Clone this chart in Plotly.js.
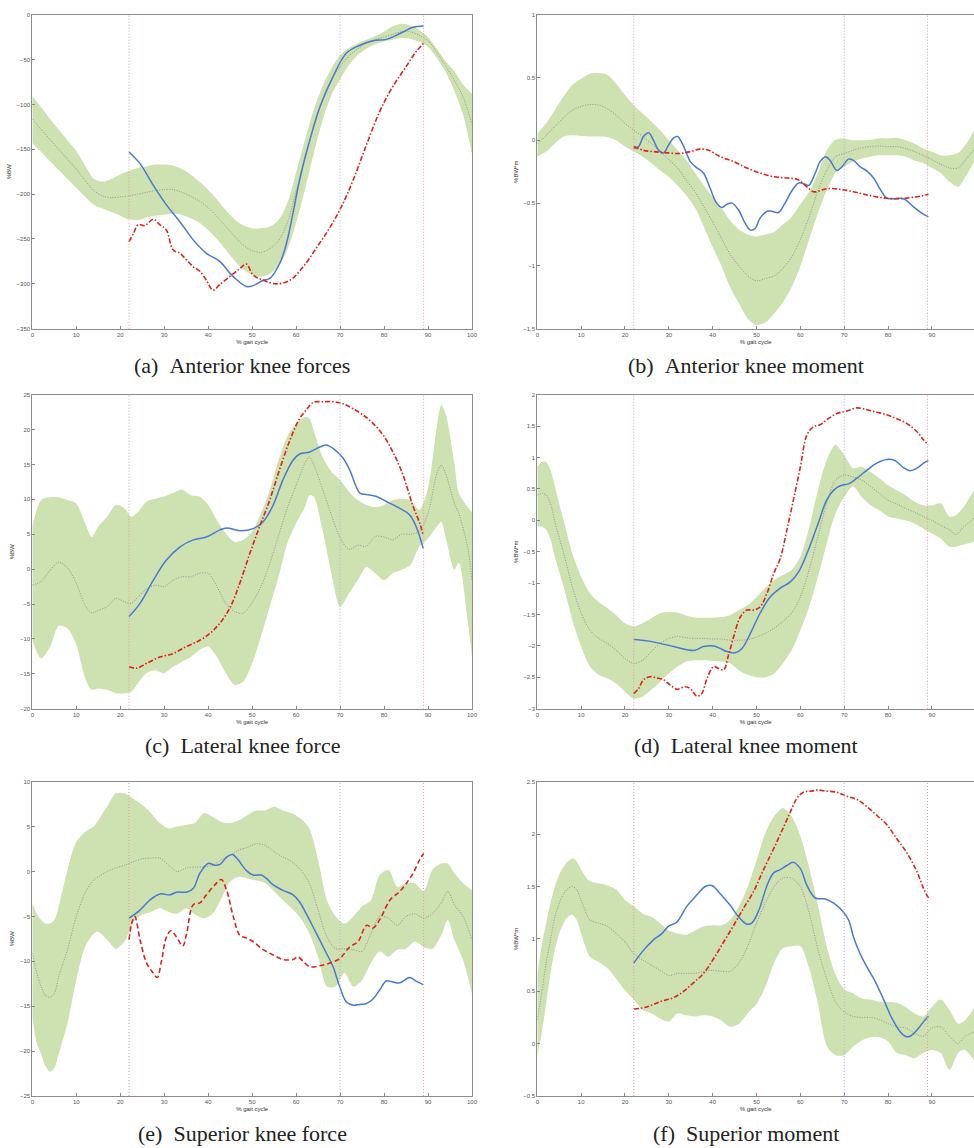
<!DOCTYPE html>
<html>
<head>
<meta charset="utf-8">
<script src="https://cdn.plot.ly/plotly-3.0.1.min.js"></script>
<style>html,body{margin:0;padding:0;background:#fff;}#chart{width:974px;height:1148px;}</style>
</head>
<body>
<div id="chart"></div>
<script>
// ---------- shared ----------
const eventX = [22, 70, 89];
const xTicks = [0,10,20,30,40,50,60,70,80,90,100];

// ---------- (a) Anterior knee forces ----------
const aX = [0,2,4,6,8,10,12,14,16,18,20,22,24,26,28,30,32,34,36,38,40,42,44,46,48,50,52,54,56,58,60,62,64,66,68,70,72,74,76,78,80,82,84,86,88,90,92,94,96,98,100];
const aUpper = [-91,-103,-116,-128,-140,-152,-168,-183,-186,-183,-178,-174,-171,-169,-167,-167,-168,-172,-178,-186,-195,-206,-218,-228,-235,-238,-238,-236,-229,-210,-176,-140,-106,-80,-60,-45,-37,-32,-28,-24,-19,-13,-10,-12,-17,-25,-38,-52,-63,-78,-88];
const aLower = [-143,-153,-163,-173,-183,-193,-203,-212,-216,-220,-224,-228,-229,-226,-224,-223,-222,-223,-227,-232,-240,-250,-262,-274,-284,-290,-292,-289,-280,-262,-232,-195,-155,-118,-90,-72,-56,-45,-38,-33,-30,-28,-26,-27,-30,-36,-48,-64,-85,-112,-155];
const aMean = [-116,-128,-139,-150,-161,-172,-185,-196,-202,-204,-203,-202,-200,-198,-196,-195,-195,-198,-202,-208,-215,-225,-236,-247,-257,-263,-265,-261,-252,-232,-197,-160,-126,-95,-73,-58,-46,-38,-32,-28,-25,-22,-19,-19,-23,-29,-42,-57,-73,-92,-122];
const aBlueX = [22,24.5,27.5,30.5,33.6,36.6,39.6,42.6,45.7,48.7,50.2,52.5,54,56.3,57.8,59.3,60.8,63.1,65.4,68.4,71.4,74.5,77.5,80.5,83.6,86.6,89];
const aBlue = [-153,-166,-190,-212,-231,-251,-266,-275,-292,-303,-302,-296,-294,-277,-255,-221,-184,-140,-103,-69,-43,-34,-29,-27.5,-21,-14,-12.6];
const aRedX = [22,23,24.1,25.6,27.5,29,30.5,32,33.6,35,36.6,38.1,39.6,41.1,42.6,44.9,47.2,48.7,50.2,52.5,55.5,58.6,61.6,64.6,67.7,70.5,73,76,79,82,85,87.3,89];
const aRed = [-253,-244,-234,-235,-228,-234,-240,-262,-266,-273,-281,-286,-296,-307,-301,-292,-283,-278,-290,-296,-300,-296,-281,-260,-237,-212,-184,-145,-108,-80,-58,-41,-32];

// ---------- (b) Anterior knee moment ----------
const bX = [0,2,4,6,8,10,12,14,16,18,20,22,24,26,28,30,32,34,36,38,40,42,44,46,48,50,52,54,56,58,60,62,64,66,68,70,72,74,76,78,80,82,84,86,88,90,92,94,96,98,99.6];
const bUpper = [0.055,0.135,0.24,0.35,0.44,0.49,0.53,0.535,0.52,0.45,0.36,0.28,0.215,0.15,0.08,0.0,-0.08,-0.16,-0.26,-0.36,-0.45,-0.54,-0.64,-0.71,-0.75,-0.765,-0.75,-0.73,-0.67,-0.61,-0.51,-0.41,-0.26,-0.08,0.005,0.015,0.0,0.0,0.005,0.015,0.015,0.02,0.0,-0.025,-0.065,-0.09,-0.12,-0.12,-0.1,-0.02,0.08];
const bLower = [-0.13,-0.09,-0.025,0.03,0.04,0.035,0.03,0.03,0.025,0.0,-0.05,-0.09,-0.13,-0.18,-0.24,-0.29,-0.36,-0.44,-0.54,-0.69,-0.85,-1.0,-1.17,-1.3,-1.42,-1.47,-1.45,-1.38,-1.29,-1.17,-1.0,-0.79,-0.58,-0.4,-0.26,-0.21,-0.17,-0.145,-0.13,-0.12,-0.12,-0.12,-0.13,-0.16,-0.18,-0.22,-0.26,-0.33,-0.37,-0.27,-0.17];
const bMean = [-0.03,0.04,0.11,0.18,0.24,0.27,0.285,0.28,0.25,0.2,0.135,0.08,0.03,-0.025,-0.09,-0.155,-0.22,-0.32,-0.41,-0.53,-0.65,-0.78,-0.91,-1.0,-1.08,-1.12,-1.1,-1.08,-1.02,-0.93,-0.79,-0.61,-0.4,-0.24,-0.13,-0.105,-0.08,-0.06,-0.05,-0.045,-0.05,-0.05,-0.065,-0.09,-0.12,-0.155,-0.19,-0.22,-0.22,-0.14,-0.07];
const bBlueX = [22,23.1,24.2,25.4,26.5,27.7,28.8,29.9,31.1,32,33.4,34.9,36.4,37.9,39.4,40.9,42.1,43.2,44.4,45.9,47.4,48.6,49.7,50.8,52.4,53.5,55,56.5,58.1,59.6,61.1,61.9,63.4,64.5,65.7,66.8,68.3,69.5,71,72.1,73.6,75.2,76.7,78.2,79.7,81.2,83.5,85.8,87.7,89.2];
const bBlue = [-0.065,-0.05,0.03,0.06,0.0,-0.08,-0.1,-0.04,0.02,0.03,-0.05,-0.17,-0.22,-0.26,-0.38,-0.5,-0.535,-0.51,-0.5,-0.555,-0.66,-0.715,-0.7,-0.62,-0.565,-0.565,-0.575,-0.5,-0.4,-0.34,-0.35,-0.36,-0.26,-0.17,-0.13,-0.16,-0.24,-0.21,-0.15,-0.16,-0.21,-0.245,-0.3,-0.39,-0.46,-0.465,-0.465,-0.53,-0.58,-0.61];
const bRedX = [22,24.2,26.5,29.6,32.6,34.9,37.2,39.1,41.7,44.8,47.8,50.8,53.9,56.9,59.2,61.5,63,66,69,72.1,75.2,78.2,81.2,84.3,87.3,89.2];
const bRed = [-0.05,-0.08,-0.09,-0.1,-0.105,-0.09,-0.07,-0.08,-0.13,-0.17,-0.22,-0.26,-0.29,-0.3,-0.31,-0.37,-0.41,-0.385,-0.39,-0.41,-0.435,-0.455,-0.465,-0.46,-0.445,-0.43];

// ---------- (c) Lateral knee force ----------
const cX = [0,2,4,6,8,10,12,13.5,15,17,19,21,22.5,24,26,28,30,32,34,36,38,40,42,44,46,48,50,52,54,56,58,60,62,63,64,66,68,70,72,74,76,78,80,82,84,86,88,90,92,93,94,96,97,99,100];
const cUpper = [6.1,9.9,10.3,10.3,9.9,9.4,6.6,4.6,6.1,7.5,9.2,8.7,7.5,8.2,9.7,10.1,10.4,10.9,11.4,10.6,10.4,9.2,7.0,5.1,3.9,4.2,5.4,8.0,11.3,15.6,19.0,20.9,21.8,21.6,19.9,16.1,14.0,12.8,11.1,9.9,9.2,8.9,9.2,9.9,10.1,9.9,8.5,11.6,20.4,23.5,22.3,15.2,10.9,8.9,8.2];
const cLower = [-10.2,-12.8,-11.2,-8.1,-8.5,-10.8,-15.6,-17.3,-17.1,-17.3,-17.8,-17.8,-17.6,-16.4,-14.9,-14.5,-14.9,-14.0,-13.3,-12.6,-11.6,-11.1,-12.6,-14.9,-16.6,-16.1,-13.5,-9.7,-5.4,-1.1,3.7,6.6,8.9,10.6,10.4,5.6,-0.6,-5.4,-3.5,-1.6,0.3,-0.6,-1.6,-0.6,-0.1,0.6,3.2,4.4,6.1,6.8,4.6,-0.1,0.9,-7.3,-12.6];
const cMean = [-2.3,-1.8,-0.2,1.0,0.2,-2.0,-5.2,-6.3,-5.9,-5.4,-4.2,-4.7,-4.9,-4.0,-2.8,-2.3,-2.5,-1.6,-1.1,-1.1,-0.6,-0.6,-2.5,-4.9,-6.1,-6.3,-4.8,-2.5,0.8,4.8,8.8,12.0,15.2,16.1,15.0,11.5,7.8,4.5,2.8,3.4,3.3,4.7,4.6,4.2,5.0,5.0,5.4,8.0,13.7,14.9,13.7,9.4,8.0,3.2,-1.6];
const cBlueX = [22,24.5,27.5,30.5,33.6,36.6,39.6,42.6,44.2,47.2,50.2,52.5,54.8,57,59.3,60.8,63.1,65.4,66.9,68.4,70.7,72.2,74.5,76,78.3,80.5,83.6,85.8,87.3,88.9];
const cBlue = [-6.8,-4.9,-1.6,1.3,3.2,4.2,4.6,5.6,5.9,5.5,5.8,6.8,9.2,12.8,15.6,16.5,16.8,17.5,17.8,17.3,15.9,14.2,10.9,10.7,10.4,9.7,8.7,7.8,6.1,3.0];
const cRedX = [22,23.7,26,29,32,35,38.1,40.4,42.6,44.9,47.2,49.5,51.7,54,56.3,58.6,60.8,62.3,63.9,66.1,68.4,70.7,72.9,75.2,77.5,79.8,82,84.3,86.6,88.1,88.9];
const cRed = [-14.0,-14.2,-13.5,-12.6,-12.1,-11.1,-10.2,-9.2,-7.8,-5.6,-2.0,2.3,6.1,9.9,14.4,18.5,21.6,22.8,23.9,24.0,24.0,23.7,23.0,22.1,20.9,19.2,16.8,13.5,9.0,6.6,4.9];

// ---------- (d) Lateral knee moment ----------
const dX = [0,1,2,3,4,6,8,10,12,14,16,18,20,22,24,26,28,30,32,34,36,38,40,42,44,46,48,50,52,54,56,58,60,62,64,66,68,70,72,74,76,78,80,82,84,86,88,90,92,94,95.5,97,99.6];
const dUpper = [0.85,0.93,0.93,0.8,0.54,0.0,-0.53,-0.9,-1.16,-1.3,-1.4,-1.51,-1.64,-1.69,-1.64,-1.56,-1.48,-1.46,-1.47,-1.52,-1.55,-1.55,-1.55,-1.54,-1.51,-1.43,-1.35,-1.22,-1.08,-0.95,-0.87,-0.79,-0.58,-0.12,0.48,0.96,1.2,1.04,0.83,0.85,0.77,0.67,0.56,0.48,0.4,0.3,0.24,0.24,0.27,0.06,0.08,0.19,0.48];
const dLower = [-0.1,-0.1,-0.15,-0.3,-0.58,-1.06,-1.59,-2.01,-2.33,-2.46,-2.52,-2.6,-2.73,-2.84,-2.81,-2.7,-2.57,-2.44,-2.33,-2.25,-2.23,-2.23,-2.24,-2.25,-2.28,-2.39,-2.46,-2.5,-2.5,-2.44,-2.28,-2.07,-1.75,-1.38,-0.9,-0.37,0.11,0.37,0.54,0.37,0.24,0.16,0.06,0.03,0.0,-0.05,-0.13,-0.21,-0.29,-0.42,-0.42,-0.39,-0.34];
const dMean = [0.4,0.43,0.4,0.27,-0.02,-0.52,-1.06,-1.48,-1.75,-1.88,-1.96,-2.07,-2.2,-2.28,-2.23,-2.09,-1.96,-1.88,-1.85,-1.87,-1.88,-1.88,-1.89,-1.89,-1.91,-1.91,-1.9,-1.86,-1.8,-1.72,-1.61,-1.48,-1.22,-0.79,-0.26,0.27,0.64,0.72,0.69,0.64,0.54,0.43,0.32,0.26,0.19,0.13,0.06,0.0,-0.08,-0.15,-0.23,-0.12,0.03];
const dBlueX = [22,25,28,31.1,34.1,36,37.9,40.2,41.7,43.2,45.1,46.7,48.6,50.8,53.1,55.4,57.7,59.6,61.5,63.8,66,67.6,69.1,71,72.9,75.2,77.4,79.7,81.6,83.5,85,86.6,88.1,89.2];
const dBlue = [-1.9,-1.92,-1.96,-2.01,-2.06,-2.07,-2.01,-2.0,-2.04,-2.09,-2.11,-2.04,-1.8,-1.48,-1.22,-1.08,-0.98,-0.82,-0.53,-0.1,0.32,0.48,0.55,0.58,0.67,0.8,0.91,0.97,0.95,0.84,0.79,0.83,0.91,0.95];
const dRedX = [22,23.1,24.2,25.8,27.3,28.8,30.3,31.8,33.7,34.9,36.4,37.5,38.7,40.2,41.3,42.5,43.6,44.8,46.3,47.8,49.3,50.8,52.4,53.9,55.4,56.9,58.4,60,61.5,63,64.5,66,68.3,70.6,72.9,75.2,77.4,79.7,81.9,84.3,86.6,88.1,89.2];
const dRed = [-2.76,-2.68,-2.54,-2.49,-2.51,-2.54,-2.62,-2.69,-2.65,-2.68,-2.8,-2.76,-2.52,-2.33,-2.36,-2.38,-2.15,-1.85,-1.54,-1.43,-1.43,-1.38,-1.16,-0.85,-0.61,-0.16,0.32,0.85,1.36,1.49,1.52,1.6,1.7,1.74,1.79,1.76,1.72,1.68,1.62,1.54,1.41,1.28,1.2];

// ---------- (e) Superior knee force ----------
const eX = [0,1,2,3,4,5,6,8,10,12,14,15,17,19,21,23,25,27,29,31,33,35,37,39,41,43,45,47,49,51,53,55,57,59,61,63,65,67,69,71,73,75,77,79,81,83,85,87,89,91,93,94.5,96,98,100];
const eUpper = [-3.5,-4.7,-5.4,-5.8,-5.8,-5.4,-3.9,0.2,3.3,4.4,5.0,5.7,7.2,8.7,8.7,8.1,7.4,6.5,5.4,4.8,5.0,5.2,5.4,6.5,6.1,5.5,5.4,5.7,6.3,6.8,6.8,7.2,6.8,6.5,5.9,4.8,1.3,-3.2,-5.0,-5.8,-5.0,-3.9,-3.2,-0.4,0.2,-1.7,-1.3,-1.3,-2.2,0.2,0.9,0.9,-0.2,-1.3,-2.1];
const eLower = [-16.2,-19.1,-20.3,-21.7,-22.3,-21.9,-20.3,-16.9,-12.1,-8.4,-6.9,-6.7,-7.6,-8.6,-7.8,-5.6,-4.8,-4.5,-4.1,-4.5,-4.7,-4.1,-4.8,-5.2,-4.7,-3.0,-1.1,-0.6,-0.8,-1.0,-1.3,-2.2,-3.2,-4.1,-5.2,-6.9,-9.5,-12.8,-12.8,-11.3,-12.8,-12.1,-10.2,-8.9,-9.5,-8.7,-8.6,-7.8,-8.4,-8.6,-7.1,-5.4,-7.6,-9.9,-13.6];
const eMean = [-9.1,-11.3,-12.8,-13.8,-14.0,-13.6,-11.7,-8.7,-5.0,-2.4,-0.9,-0.6,0.0,0.4,0.7,1.1,1.4,1.5,1.5,0.7,0.0,0.4,0.5,0.5,0.7,1.3,1.8,2.4,2.7,3.1,2.9,2.2,1.6,1.1,0.2,-1.3,-4.3,-7.3,-8.6,-8.6,-8.7,-8.9,-6.9,-5.0,-5.2,-6.0,-5.0,-4.7,-5.2,-4.7,-3.5,-2.2,-3.7,-5.0,-7.6];
const eBlueX = [22,24.5,26.7,29,31.3,32.8,35.1,36.6,38.1,40,41.5,42.7,44.2,45.5,46.8,48.7,50.2,52.1,53.3,54.8,57,59.3,60.8,62.3,64.6,66.9,68.4,69.9,71.4,73,74.5,76,77.5,79,80.5,82,83.6,85.8,87.3,88.9];
const eBlue = [-5.2,-4.3,-3.2,-2.5,-2.6,-2.3,-2.3,-1.9,-0.2,0.9,0.7,0.8,1.6,1.9,1.3,0.1,-0.4,-0.4,-0.8,-1.5,-2.1,-2.6,-3.4,-4.7,-6.9,-9.1,-10.6,-12.8,-14.5,-14.9,-14.8,-14.7,-14.2,-13.2,-12.2,-12.3,-12.4,-11.8,-12.2,-12.6];
const eRedX = [22,22.6,23.3,24.5,26,27.5,28.4,29.4,30.5,31.5,32.8,34.2,35.1,36.6,38.1,39.6,41.5,43,44.2,45.7,47.2,48.7,50.2,52.5,54.8,57,59.3,60.4,61.6,63.1,65.4,67.7,69.9,72.2,74.1,76,77.5,79.4,81.3,83.6,85.1,86.6,88.1,89];
const eRed = [-7.6,-5.8,-5.0,-7.6,-10.2,-11.3,-11.8,-9.9,-7.3,-6.6,-7.3,-8.3,-6.9,-3.7,-3.5,-2.6,-1.5,-0.9,-2.1,-5.0,-7.1,-7.4,-7.8,-8.7,-9.3,-9.8,-9.8,-9.5,-10.0,-10.6,-10.5,-10.2,-9.7,-8.4,-7.8,-6.0,-6.3,-5.0,-3.2,-2.2,-1.3,-0.2,1.3,2.0];

// ---------- (f) Superior moment ----------
const fX = [0,1,2,3,4,5,6,7,8,9,10,12,14,16,18,20,22,24,26,28,30,32,34,36,38,40,42,44,46,48,50,52,54,56,58,60,62,64,66,68,70,72,74,76,78,80,82,84,86,88,90,92,94,96,97.5,99.6];
const fUpper = [0.67,0.93,1.15,1.34,1.5,1.61,1.69,1.74,1.77,1.74,1.66,1.55,1.53,1.51,1.47,1.37,1.31,1.24,1.21,1.15,1.08,1.05,1.04,1.08,1.12,1.13,1.13,1.18,1.31,1.5,1.75,2.01,2.17,2.25,2.17,1.98,1.68,1.32,0.93,0.66,0.52,0.48,0.43,0.42,0.4,0.4,0.39,0.35,0.29,0.26,0.35,0.42,0.32,0.19,0.22,0.34];
const fLower = [-0.12,0.1,0.38,0.67,0.89,1.05,1.15,1.21,1.23,1.18,1.05,0.83,0.78,0.72,0.62,0.51,0.42,0.32,0.29,0.24,0.21,0.29,0.27,0.26,0.27,0.26,0.22,0.16,0.19,0.29,0.38,0.54,0.77,0.91,0.93,0.93,0.72,0.38,-0.02,-0.11,-0.11,-0.03,0.03,0.06,0.06,0.02,-0.09,-0.11,-0.14,-0.09,-0.06,-0.09,-0.25,-0.09,-0.06,-0.16];
const fMean = [0.23,0.48,0.77,0.99,1.21,1.34,1.43,1.48,1.5,1.47,1.37,1.18,1.15,1.12,1.05,0.97,0.86,0.8,0.75,0.7,0.65,0.67,0.67,0.67,0.69,0.7,0.69,0.69,0.77,0.93,1.15,1.34,1.5,1.58,1.58,1.5,1.25,0.9,0.62,0.4,0.3,0.26,0.25,0.25,0.23,0.19,0.16,0.15,0.1,0.07,0.15,0.16,0.07,0.0,0.07,0.11];
const fBlueX = [22,24.2,26.5,28.4,29.9,31.8,34.1,36.4,38.3,39.8,41.7,44,45.9,47.8,48.9,50.5,52.4,53.9,55.4,56.9,58.4,60,61.5,63.4,65.7,67.6,69.5,71,72.1,73.6,75.2,77.1,79,80.9,82.8,83.9,85,86.6,88.1,89.2];
const fBlue = [0.77,0.89,0.99,1.05,1.12,1.16,1.31,1.42,1.5,1.51,1.43,1.32,1.21,1.14,1.15,1.27,1.51,1.63,1.66,1.7,1.73,1.67,1.51,1.39,1.38,1.34,1.27,1.18,1.02,0.86,0.73,0.59,0.42,0.24,0.11,0.07,0.07,0.13,0.21,0.26];
const fRedX = [22,25,28,31.1,33.4,35.6,37.9,40.2,42.5,44.8,47,49.3,51.6,53.9,56.2,57.7,59.2,60.7,62.6,63.8,66,68.3,70.6,72.9,75.2,77.4,79.7,81.9,84.3,86.6,88.1,89.2];
const fRed = [0.33,0.35,0.4,0.44,0.5,0.58,0.67,0.81,0.97,1.13,1.29,1.45,1.66,1.86,2.07,2.21,2.34,2.4,2.41,2.42,2.41,2.4,2.36,2.33,2.26,2.18,2.09,1.96,1.82,1.64,1.48,1.39];

// ---------- labels ----------
const captions = ['(a)\u00a0\u00a0Anterior knee forces','(b)\u00a0\u00a0Anterior knee moment','(c)\u00a0\u00a0Lateral knee force','(d)\u00a0\u00a0Lateral knee moment','(e)\u00a0\u00a0Superior knee force','(f)\u00a0\u00a0Superior moment'];
const yTitles = ['%BW','%BW*m','%BW','%BW*m','%BW','%BW*m'];
const xTitle = '% gait cycle';
const yRanges = [[-350,0],[-1.5,1],[-20,25],[-3,2],[-25,10],[-0.5,2.5]];
const yDticks = [50,0.5,5,0.5,5,0.5];

const series = [
  [aX,aUpper,aLower,aMean,aBlueX,aBlue,aRedX,aRed],
  [bX,bUpper,bLower,bMean,bBlueX,bBlue,bRedX,bRed],
  [cX,cUpper,cLower,cMean,cBlueX,cBlue,cRedX,cRed],
  [dX,dUpper,dLower,dMean,dBlueX,dBlue,dRedX,dRed],
  [eX,eUpper,eLower,eMean,eBlueX,eBlue,eRedX,eRed],
  [fX,fUpper,fLower,fMean,fBlueX,fBlue,fRedX,fRed]
];

// ---------- layout geometry ----------
const W = 974, H = 1148;
const colDom = [[32.3/W, 472/W],[537.3/W, 1.0]];
const xRangeByCol = [[0,100],[0,99.6]];
const rowPx = [[14.7,328.7],[394.7,708.7],[781.7,1096]];
const capYpx = [366, 745, 1133];
const capXpx = [242, 746];

const traces = [];
const layout = {
  width: W, height: H,
  margin: {l:0, r:0, t:0, b:0},
  paper_bgcolor: '#fff', plot_bgcolor: '#fff',
  showlegend: false,
  shapes: [], annotations: []
};

const bandFill = 'rgb(206,225,176)';
const blue = 'rgb(72,122,212)';
const red = 'rgb(222,32,30)';
const tickFont = {family:'Liberation Sans, Arial, sans-serif', size:6, color:'#555'};

series.forEach((s, i) => {
  const col = i % 2, row = Math.floor(i / 2);
  const n = i + 1;
  const xa = n === 1 ? 'x' : 'x' + n;
  const ya = n === 1 ? 'y' : 'y' + n;
  const [X, U, L, M, BX, B, RX, R] = s;
  traces.push({x:X, y:L, xaxis:xa, yaxis:ya, mode:'lines', line:{width:0, shape:'spline', smoothing:0.8}, hoverinfo:'skip'});
  traces.push({x:X, y:U, xaxis:xa, yaxis:ya, mode:'lines', fill:'tonexty', fillcolor:bandFill, line:{width:0, shape:'spline', smoothing:0.8}, hoverinfo:'skip'});
  traces.push({x:X, y:M, xaxis:xa, yaxis:ya, mode:'lines', line:{width:0.9, color:'#8a8a8a', dash:'1px,1.5px', shape:'spline', smoothing:0.8}});
  traces.push({x:BX, y:B, xaxis:xa, yaxis:ya, mode:'lines', line:{width:1.5, color:blue, shape:'spline', smoothing:1}});
  traces.push({x:RX, y:R, xaxis:xa, yaxis:ya, mode:'lines', line:{width:1.6, color:red, dash: i === 4 ? '5px,3px' : '5px,2px,1.5px,2px', shape:'spline', smoothing:1}});

  const yd = [1 - rowPx[row][1]/H, 1 - rowPx[row][0]/H];
  layout['xaxis' + (n === 1 ? '' : n)] = {
    domain: colDom[col], anchor: ya, range: xRangeByCol[col],
    tickvals: xTicks, ticks:'inside', ticklen:3, tickcolor:'#888', tickfont:tickFont,
    showline:true, linecolor:'#8c8c8c', linewidth:1, mirror:true,
    showgrid:false, zeroline:false, fixedrange:true,
    title:{text:xTitle, font:{family:'Liberation Sans, Arial, sans-serif', size:6, color:'#333'}, standoff:2}
  };
  layout['yaxis' + (n === 1 ? '' : n)] = {
    domain: yd, anchor: xa, range: yRanges[i], dtick: yDticks[i], tick0: 0,
    ticks:'inside', ticklen:3, tickcolor:'#888', tickfont:tickFont,
    showline:true, linecolor:'#8c8c8c', linewidth:1, mirror: col === 0,
    showgrid:false, zeroline:false, fixedrange:true,
    title:{text:yTitles[i], font:{family:'Liberation Sans, Arial, sans-serif', size:6, color:'#333'}, standoff:4}
  };
  eventX.forEach((ex, k) => {
    layout.shapes.push({type:'line', xref:xa, yref: ya + ' domain', x0:ex, x1:ex, y0:0, y1:1,
      line:{width:1, dash:'1px,2px', color: k === 1 ? 'rgb(175,175,228)' : 'rgb(242,150,150)'}});
  });
  layout.annotations.push({xref:'paper', yref:'paper', x: capXpx[col]/W, y: 1 - capYpx[row]/H,
    xanchor:'center', yanchor:'middle', showarrow:false, text: captions[i],
    font:{family:'Liberation Serif, DejaVu Serif, serif', size:22, color:'#222'}});
});

Plotly.newPlot('chart', traces, layout, {staticPlot:true, displayModeBar:false});
</script>
</body>
</html>
